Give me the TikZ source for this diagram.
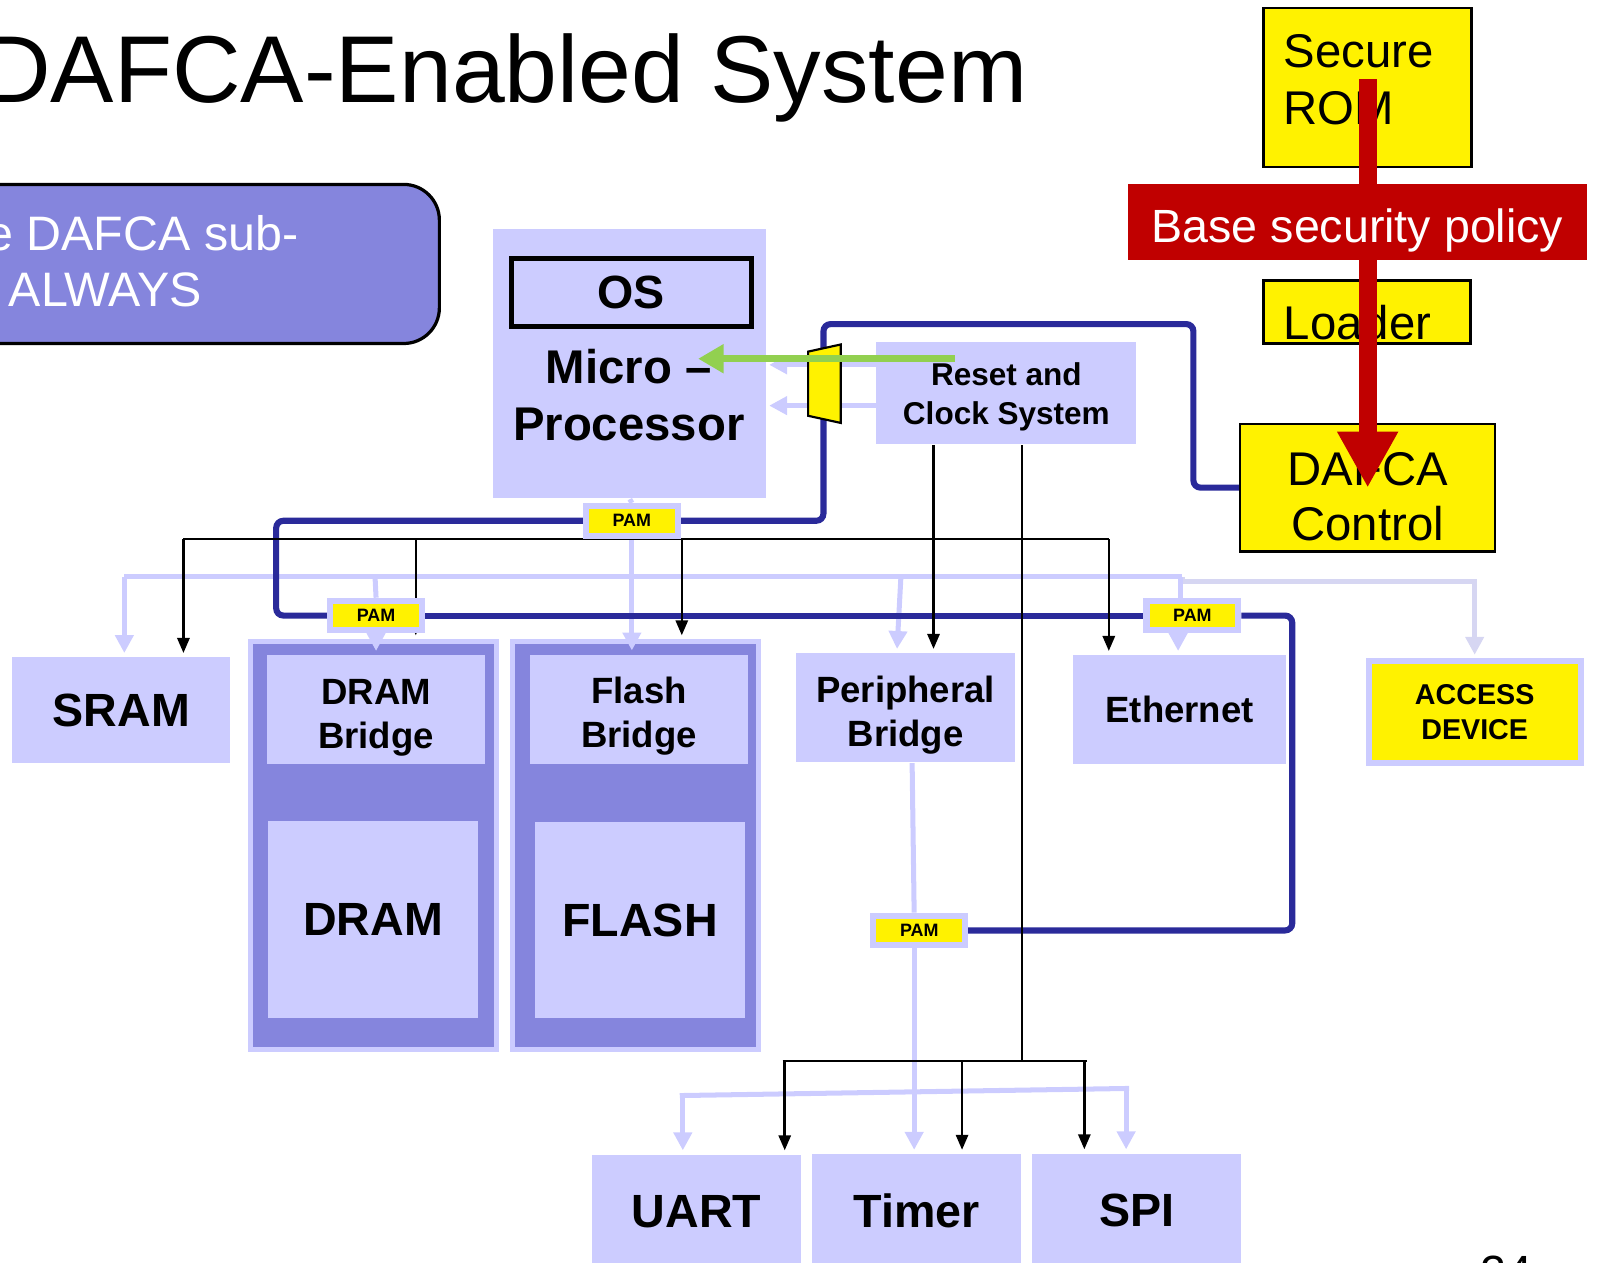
\documentclass[tikz,border=0pt]{standalone}
\usepackage{fontspec}
\setmainfont{Liberation Sans}
\usetikzlibrary{%
  arrows.meta%
}
\definecolor{lav}{HTML}{CCCCFF}
\definecolor{lavpale}{HTML}{D6D6F2}
\definecolor{peri}{HTML}{8585DD}
\definecolor{navy}{HTML}{2A2A9A}
\definecolor{secred}{HTML}{C00000}
\definecolor{okgreen}{HTML}{92D050}
\pgfdeclarelayer{bg}
\pgfdeclarelayer{wires}
\pgfsetlayers{bg,wires,main}
\newcommand{\fsz}[2]{\fontsize{#1}{#2}\selectfont}

\begin{document}
\begin{tikzpicture}[
      x=0.01cm, y=-0.01cm,
      every node/.style={inner sep=0pt},
      box/.style={
        fill=lav,
        align=center,
        font=\fsz{13}{16}\bfseries
      },
      bridge/.style={
        font=\fsz{10.2}{12.2}\bfseries,
        minimum width=2.14cm,
        minimum height=1.07cm
      },
      twoline/.style={text height=0.75cm, text depth=0pt},
      grp/.style={
        fill=peri,
        draw=lav,
        line width=1.4pt,
        minimum width=2.42cm,
        minimum height=4cm
      },
      pam/.style={
        fill=yellow,
        draw=lav,
        line width=1.7pt,
        minimum width=0.9cm,
        minimum height=0.29cm,
        font=\fsz{5}{6}\bfseries
      },
      ybox/.style={
        fill=yellow,
        draw=black,
        line width=0.7pt
      },
      ytext/.style={font=\fsz{13.2}{16}},
      wire/.style={draw=navy, line width=1.7pt, rounded corners=2pt},
      lavline/.style={draw=lav, line width=1.4pt},
      lavarrow/.style={
        lavline,
        -{Triangle[length=5pt,width=5pt]},
        shorten >=1pt
      },
      bus/.style={draw=black, line width=0.7pt},
      busarrow/.style={
        bus,
        -{Triangle[length=4.2pt,width=3.4pt]},
        shorten >=1pt
      }
    ]
    \useasboundingbox (0,0) rectangle (1568,1239);

    % title and note
    \node[anchor=base west, font=\fsz{26.5}{30}] (title) at (-18,101)
      {DAFCA-Enabled System};
    \node[fill=peri, draw=black, line width=0.9pt, rounded corners=0.35cm,
      minimum width=4.71cm, minimum height=1.56cm] (note) at (195.5,259) {};
    \node[anchor=base west, text=white, font=\fsz{13.5}{16}] (note1)
      at (-14,246) {e DAFCA sub-};
    \node[anchor=base west, text=white, font=\fsz{13.5}{16}] (note2)
      at (8,301) {ALWAYS};

    % processor and reset
    \node[box, minimum width=2.68cm, minimum height=2.64cm] (micro)
      at (618,357) {};
    \node[draw=black, line width=1.4pt, fill=lav, minimum width=2.36cm,
      minimum height=0.67cm, font=\fsz{13}{16}\bfseries] (os)
      at (619.5,287) {OS};
    \node[align=center, font=\fsz{13.2}{15.9}\bfseries] (microtxt)
      at (617,388) {Micro \textendash\\Processor};
    \node[box, minimum width=2.55cm, minimum height=1cm, text depth=0pt,
      font=\fsz{8.8}{10.8}\bfseries] (reset)
      at (987.5,386) {Reset and\\Clock System};

    \filldraw[fill=yellow, draw=black, line width=0.6pt]
      (793,345) -- (825,338) -- (825,415) -- (793,408) -- cycle;
    \coordinate (muxtop) at (808,350);
    \coordinate (muxbot) at (808,400);

    % memories and peripherals
    \begin{pgfonlayer}{bg}
      \node[grp] (dramg) at (366.5,829.5) {};
      \node[grp] (flashg) at (623.5,829.5) {};
    \end{pgfonlayer}
    \node[box, minimum width=2.14cm, minimum height=1.04cm] (sram)
      at (119,697) {SRAM};
    \node[box, bridge, twoline] (dramb) at (369,696.5) {DRAM\\Bridge};
    \node[box, minimum width=2.06cm, minimum height=1.93cm] (dram)
      at (366,902) {DRAM};
    \node[box, bridge, twoline] (flashb) at (627,696) {Flash\\Bridge};
    \node[box, minimum width=2.06cm, minimum height=1.92cm] (flash)
      at (628,903) {FLASH};
    \node[box, bridge, twoline, minimum width=2.15cm] (perb)
      at (888.5,694.5) {Peripheral\\Bridge};
    \node[box, bridge, minimum width=2.09cm] (eth)
      at (1157.5,696.5) {Ethernet};
    \node[fill=yellow, draw=lav, line width=1.7pt, minimum width=2.08cm,
      minimum height=1cm, align=center, font=\fsz{8}{9.7}\bfseries] (acc)
      at (1447,699) {ACCESS\\DEVICE};
    \node[box, minimum width=2.05cm, minimum height=1.12cm] (uart)
      at (683.5,1189) {UART};
    \node[box, minimum width=2.05cm, minimum height=1.12cm] (timer)
      at (899.5,1188.5) {Timer};
    \node[box, minimum width=2.05cm, minimum height=1.12cm] (spi)
      at (1115.5,1188) {SPI};

    \node[pam] (pam1) at (620,511) {PAM};
    \node[pam] (pam2) at (369,604) {PAM};
    \node[pam] (pam3) at (1170,604) {PAM};
    \node[pam] (pam4) at (902,913) {PAM};

    % secure boot
    \node[ybox, minimum width=2.04cm, minimum height=1.56cm] (rom)
      at (1342,86) {};
    \node[ytext, anchor=north west, align=left] (romtext)
      at (1259,33) {Secure\\ROM};
    \node[ybox, minimum width=2.03cm, minimum height=0.62cm] (loader)
      at (1341.5,306) {};
    \node[ytext, anchor=base west] (loadertext) at (1259,333) {Loader};
    \node[ybox, minimum width=2.5cm, minimum height=1.25cm] (dafca)
      at (1342,478.5) {};
    \node[ytext, anchor=north, align=center, font=\fsz{13.2}{15.4}]
      (dafcatext) at (1342,443) {DAFCA\\Control};
    \draw[busarrow, shorten >=3pt] (loader.south) -- (dafca.north);
    \draw[secred, line width=5.1pt, -{Triangle[length=0.55cm,width=0.56cm]}]
      ([yshift=0.08cm]rom.center) -- (dafca.center);
    \node[fill=secred, text=white, minimum width=4.5cm, minimum height=0.74cm,
      text height=0.4cm, text depth=0pt, font=\fsz{13}{15}] (policy)
      at (1332,218) {Base security policy};

    \begin{pgfonlayer}{wires}
      % data bus
      \draw[lavline] (122,566) -- (1160,566);
      \draw[lavarrow, draw=lavpale] (1160,566) -- (1160,571) -| (acc.north);
      \draw[lavarrow] (122,566) -- (122,0 |- sram.north);
      \draw[lavline] (micro.south) -- (pam1.north);
      \draw[lavarrow] (pam1.south) -- (pam1.south |- flashb.north);
      \draw[lavline] (368,566) -- (pam2.north);
      \draw[lavarrow] (pam2.south) -- (dramb.north);
      \draw[lavarrow] (884,566) -- (880,0 |- perb.north);
      \draw[lavline] (1158,566) -- (1158,0 |- pam3.north);
      \draw[lavarrow] (1156,0 |- pam3.south) -- (1156,0 |- eth.north);
      \draw[lavline] (895,0 |- perb.south) -- (897,0 |- pam4.north);
      \draw[lavarrow] (897,0 |- pam4.south) -- (897,0 |- timer.north);
      \draw[lavline] (667,1075) -- (1108,1068);
      \draw[lavarrow] (670,1075) -- (670,0 |- uart.north);
      \draw[lavarrow] (1105,1068) -- (1105,0 |- spi.north);
      \draw[lavarrow] ([yshift=0.28cm]reset.west) -- ++(-108,0);
      \draw[lavarrow] ([yshift=-0.12cm]reset.west) -- ++(-108,0);

      % debug wires
      \draw[wire] (pam1.east) -| (muxbot);
      \draw[wire] (muxtop) |- (1171,318) |- (dafca.west);
      \draw[wire] (pam1.west) -| (271,604) -- (pam2.west);
      \draw[wire] (pam2.east) -- (pam3.west);
      \draw[wire] (pam3.east) -| (1268,913) -- (pam4.east);

      % clock and reset
      \draw[bus] (180,529) -- (1088,529);
      \foreach \x/\n in {180/sram, 408/dramg, 669/flashg, 1088/eth}
        \draw[busarrow] (\x,529) -- (\x,0 |- \n.north);
      \draw[busarrow] (916,0 |- reset.south) -- (916,0 |- perb.north);
      \draw[bus] (1003,0 |- reset.south) -- (1003,1041);
      \draw[bus] (768,1041) -- (1067,1041);
      \foreach \x/\n in {770/uart, 944/timer, 1064/spi}
        \draw[busarrow] (\x,1041) -- (\x,0 |- \n.north);
    \end{pgfonlayer}

    \coordinate (gstart) at (937,352);
    \coordinate (gend) at (685,352);
    \draw[okgreen, line width=2pt, -{Triangle[length=0.25cm,width=0.27cm]}]
      (gstart) -- (gend);

    \node[anchor=north west, font=\fsz{13}{15}] (pgnum) at (1452,1232) {24};
  \end{tikzpicture}
\end{document}
